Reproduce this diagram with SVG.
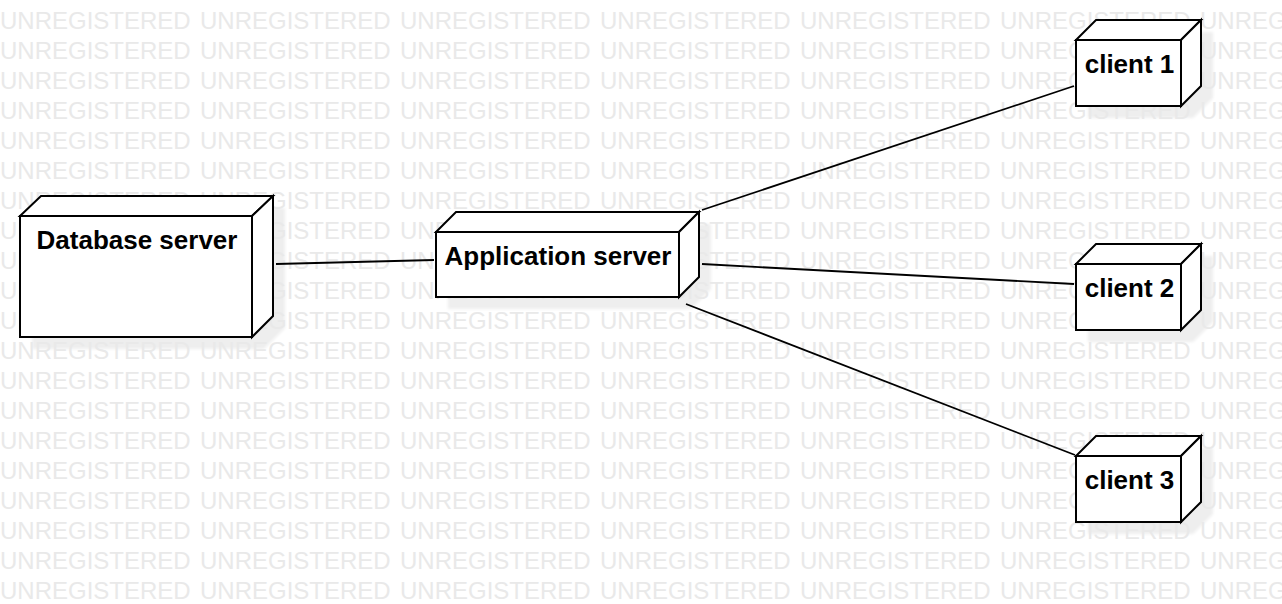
<svg xmlns="http://www.w3.org/2000/svg" xmlns:xlink="http://www.w3.org/1999/xlink" width="1282" height="604" viewBox="0 0 1282 604">
<style>
.wm{font-family:"Liberation Sans",Arial,sans-serif;font-size:24px;fill:#e9e9e9}
.face{fill:#ffffff;stroke:#000000;stroke-width:2;stroke-linejoin:miter}
.shadow{fill:#eeeeee;stroke:none}
.label{font-family:"Liberation Sans",Arial,sans-serif;font-size:26px;font-weight:bold;fill:#000000;text-anchor:middle}
.edge{stroke:#000000;stroke-width:1.8;fill:none}
</style>
<defs>
<filter id="blur" x="-10%" y="-10%" width="120%" height="120%"><feGaussianBlur stdDeviation="1.5"/></filter>
<g id="wmrow">
<text class="wm" x="0" y="29">UNREGISTERED</text>
<text class="wm" x="200" y="29">UNREGISTERED</text>
<text class="wm" x="400" y="29">UNREGISTERED</text>
<text class="wm" x="600" y="29">UNREGISTERED</text>
<text class="wm" x="800" y="29">UNREGISTERED</text>
<text class="wm" x="1000" y="29">UNREGISTERED</text>
<text class="wm" x="1200" y="29">UNREGISTERED</text>
</g>
</defs>
<rect x="0" y="0" width="1282" height="604" fill="#ffffff"/>
<g id="shadows" filter="url(#blur)">
<polygon class="shadow" points="32,228 53,208 285,208 285,328 264,349 32,349"/>
<polygon class="shadow" points="448,244 468,224 711,224 711,289 691,309 448,309"/>
<polygon class="shadow" points="1088,52 1108,32 1213,32 1213,98 1193,118 1088,118"/>
<polygon class="shadow" points="1088,276 1108,256 1213,256 1213,322 1193,342 1088,342"/>
<polygon class="shadow" points="1088,468 1108,448 1213,448 1213,514 1193,534 1088,534"/>
</g>
<g id="watermark">
<use xlink:href="#wmrow" y="-30"/>
<use xlink:href="#wmrow" y="0"/>
<use xlink:href="#wmrow" y="30"/>
<use xlink:href="#wmrow" y="60"/>
<use xlink:href="#wmrow" y="90"/>
<use xlink:href="#wmrow" y="120"/>
<use xlink:href="#wmrow" y="150"/>
<use xlink:href="#wmrow" y="180"/>
<use xlink:href="#wmrow" y="210"/>
<use xlink:href="#wmrow" y="240"/>
<use xlink:href="#wmrow" y="270"/>
<use xlink:href="#wmrow" y="300"/>
<use xlink:href="#wmrow" y="330"/>
<use xlink:href="#wmrow" y="360"/>
<use xlink:href="#wmrow" y="390"/>
<use xlink:href="#wmrow" y="420"/>
<use xlink:href="#wmrow" y="450"/>
<use xlink:href="#wmrow" y="480"/>
<use xlink:href="#wmrow" y="510"/>
<use xlink:href="#wmrow" y="540"/>
<use xlink:href="#wmrow" y="570"/>
</g>
<g id="connectors">
<line class="edge" x1="276" y1="264" x2="434" y2="260"/>
<line class="edge" x1="702" y1="210" x2="1074" y2="86"/>
<line class="edge" x1="702" y1="264" x2="1074" y2="284"/>
<line class="edge" x1="686" y1="304" x2="1075" y2="455"/>
</g>
<g id="database-server">
<rect class="face" x="20" y="216" width="232" height="121"/>
<polygon class="face" points="20,216 41,196 273,196 252,216"/>
<polygon class="face" points="252,216 273,196 273,316 252,337"/>
<text class="label" x="137" y="249">Database server</text>
</g>
<g id="application-server">
<rect class="face" x="436" y="232" width="243" height="65"/>
<polygon class="face" points="436,232 456,212 699,212 679,232"/>
<polygon class="face" points="679,232 699,212 699,277 679,297"/>
<text class="label" x="558" y="265">Application server</text>
</g>
<g id="client-1">
<rect class="face" x="1076" y="40" width="105" height="66"/>
<polygon class="face" points="1076,40 1096,20 1201,20 1181,40"/>
<polygon class="face" points="1181,40 1201,20 1201,86 1181,106"/>
<text class="label" x="1129.5" y="73">client 1</text>
</g>
<g id="client-2">
<rect class="face" x="1076" y="264" width="105" height="66"/>
<polygon class="face" points="1076,264 1096,244 1201,244 1181,264"/>
<polygon class="face" points="1181,264 1201,244 1201,310 1181,330"/>
<text class="label" x="1129.5" y="297">client 2</text>
</g>
<g id="client-3">
<rect class="face" x="1076" y="456" width="105" height="66"/>
<polygon class="face" points="1076,456 1096,436 1201,436 1181,456"/>
<polygon class="face" points="1181,456 1201,436 1201,502 1181,522"/>
<text class="label" x="1129.5" y="489">client 3</text>
</g>
</svg>
